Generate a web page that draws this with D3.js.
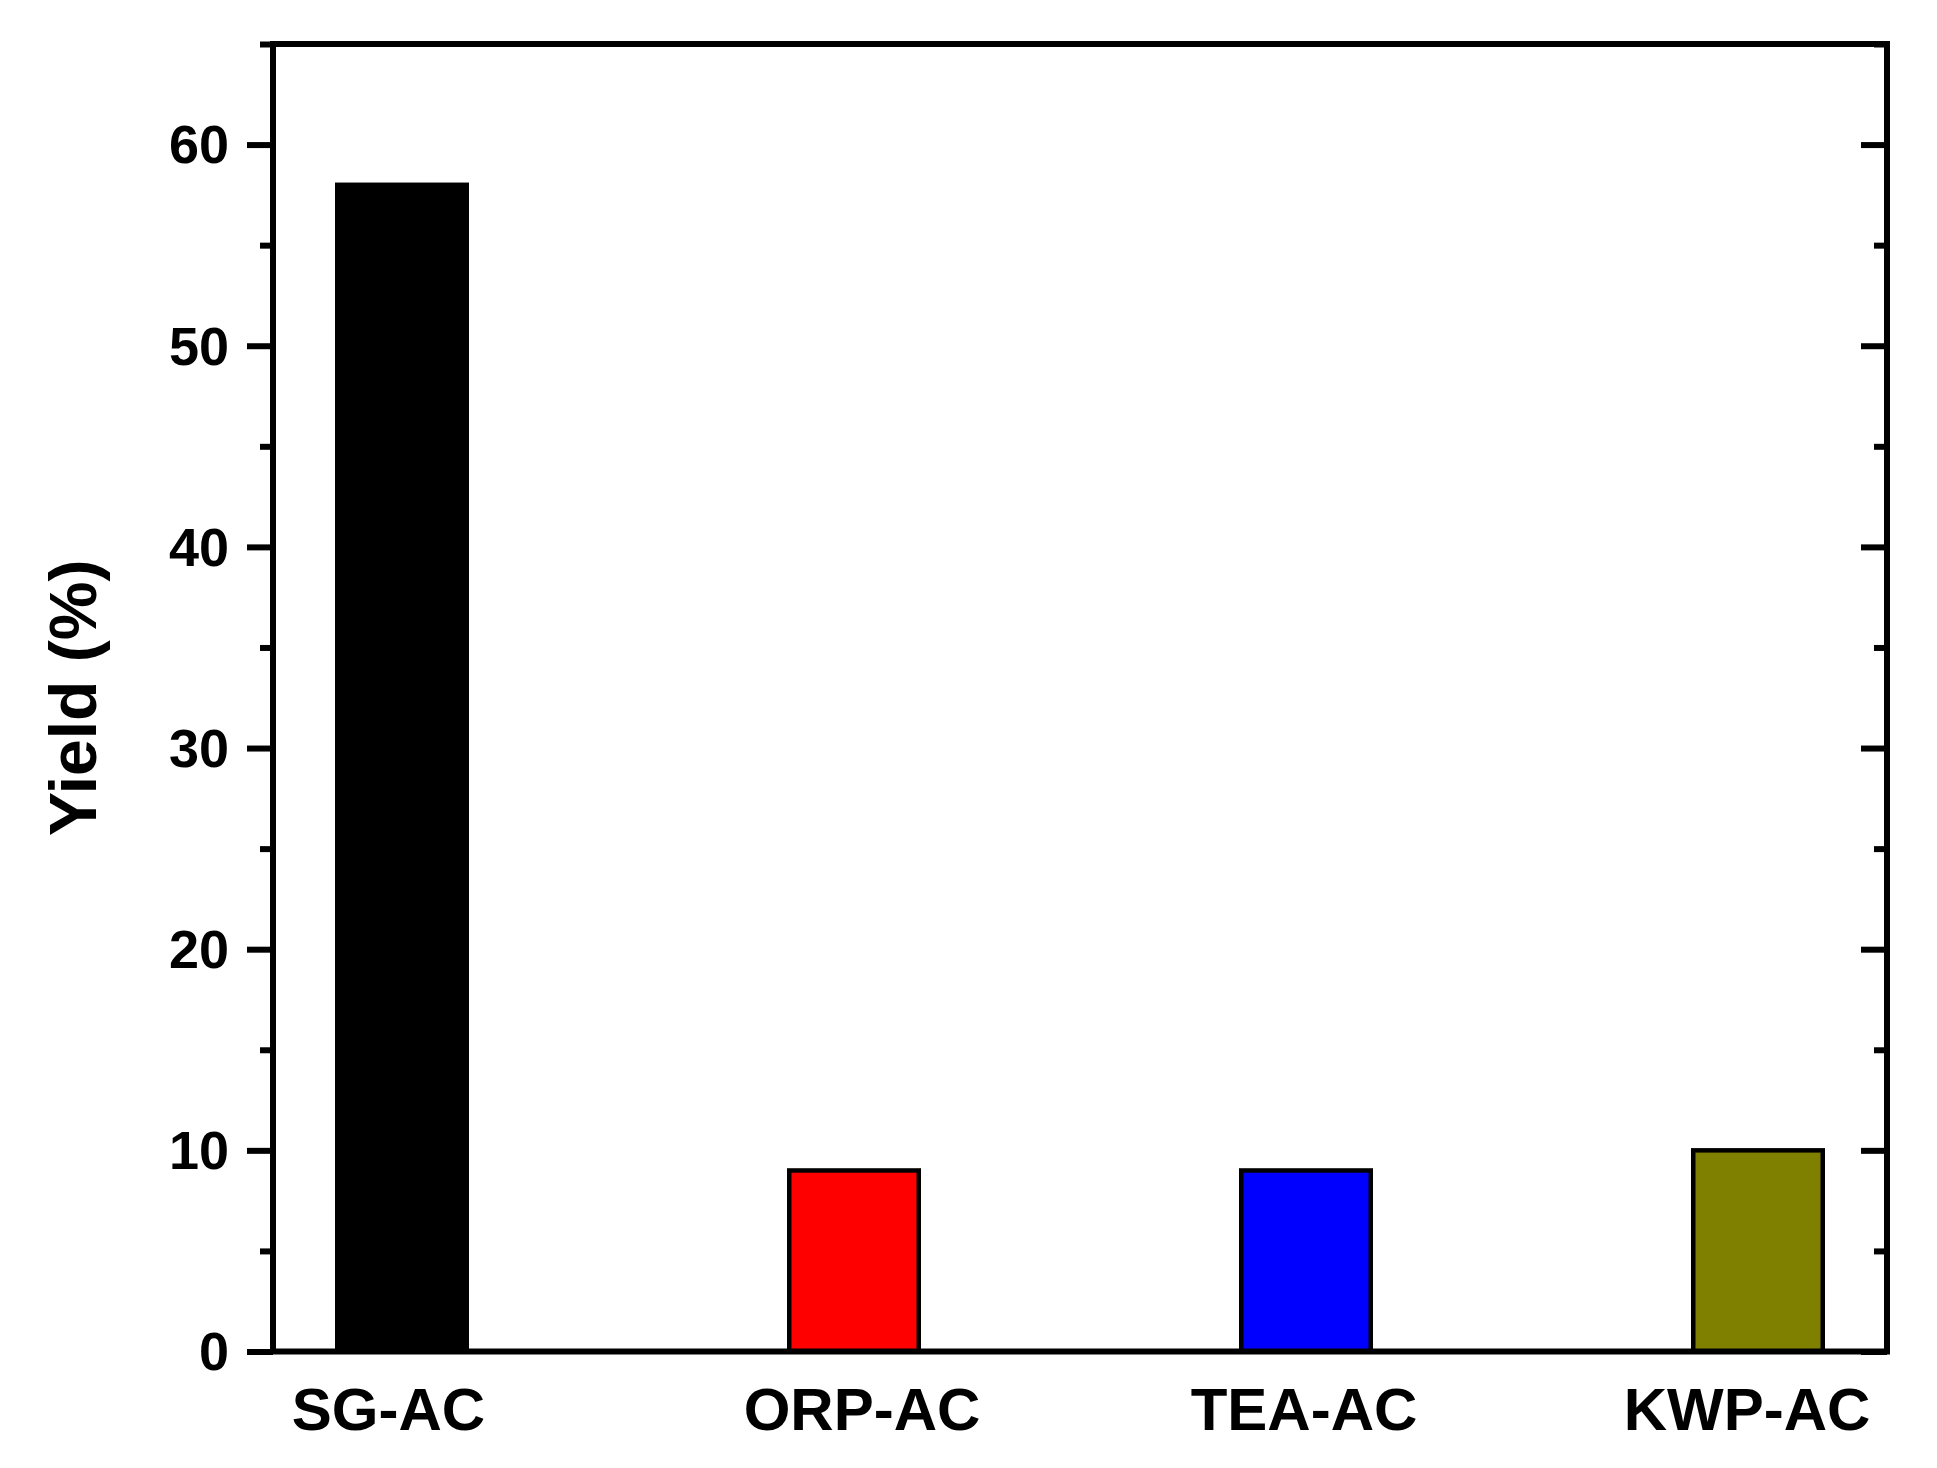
<!DOCTYPE html>
<html>
<head>
<meta charset="utf-8">
<script src="https://cdn.jsdelivr.net/npm/d3@7"></script>
<style>
  html, body { margin: 0; padding: 0; background: #ffffff; }
  svg { display: block; }
  text { font-family: "Liberation Sans", Arial, sans-serif; font-weight: bold; fill: #000; }
</style>
</head>
<body>
<script>
// ---- data ----
const categories = ["SG-AC", "ORP-AC", "TEA-AC", "KWP-AC"];
const yieldValues = [58, 9, 9, 10];
const barColors = ["#000000", "#ff0000", "#0000ff", "#808000"];
const yMajorTicks = [0, 10, 20, 30, 40, 50, 60];
const yMinorTicks = [5, 15, 25, 35, 45, 55, 65];
const yTitle = "Yield (%)";

// ---- layout ----
const W = 1937, H = 1468;
const pLeft = 273, pRight = 1887, pTop = 44, pBottom = 1351.5;
const labelNudge = [-14, 7.5, -2.5, -11.5]; // horizontal label offsets (px) seen in the original

const svg = d3.select("body").append("svg")
  .attr("width", W).attr("height", H);

const x = d3.scalePoint().domain(categories).range([pLeft, pRight]).padding(0.2854);
const y = d3.scaleLinear().domain([0, 65]).range([pBottom, pTop]);

const barW = 129.5;

// bars
svg.append("g").selectAll("rect").data(categories).join("rect")
  .attr("x", (d) => x(d) - barW / 2)
  .attr("y", (d, i) => y(yieldValues[i]))
  .attr("width", barW)
  .attr("height", (d, i) => y(0) - y(yieldValues[i]))
  .attr("fill", (d, i) => barColors[i])
  .attr("stroke", "#000")
  .attr("stroke-width", 4.5);

// left axis major (outward with labels)
const gL = svg.append("g").attr("transform", `translate(${pLeft},0)`)
  .call(d3.axisLeft(y).tickValues(yMajorTicks).tickSize(26).tickPadding(18).tickFormat(d3.format("d")));
gL.select(".domain").remove();
gL.selectAll(".tick line").attr("stroke", "#000").attr("stroke-width", 6);
gL.selectAll(".tick text").attr("font-size", 54).attr("dy", "0.34em")
  .style("font-family", "'Liberation Sans', Arial, sans-serif").style("font-weight", "bold");

// left axis minor
const gLm = svg.append("g").attr("transform", `translate(${pLeft},0)`)
  .call(d3.axisLeft(y).tickValues(yMinorTicks).tickSize(13).tickFormat(""));
gLm.select(".domain").remove();
gLm.selectAll(".tick line").attr("stroke", "#000").attr("stroke-width", 6);

// right axis major (inward, no labels)
const gR = svg.append("g").attr("transform", `translate(${pRight},0)`)
  .call(d3.axisRight(y).tickValues(yMajorTicks).tickSize(-26).tickFormat(""));
gR.select(".domain").remove();
gR.selectAll(".tick line").attr("stroke", "#000").attr("stroke-width", 6);

const gRm = svg.append("g").attr("transform", `translate(${pRight},0)`)
  .call(d3.axisRight(y).tickValues(yMinorTicks).tickSize(-13).tickFormat(""));
gRm.select(".domain").remove();
gRm.selectAll(".tick line").attr("stroke", "#000").attr("stroke-width", 6);

// bottom axis labels (no ticks)
const gB = svg.append("g").attr("transform", `translate(0,${pBottom})`)
  .call(d3.axisBottom(x).tickSize(0).tickPadding(0));
gB.select(".domain").remove();
gB.selectAll(".tick text").attr("font-size", 60).attr("y", 78.5).attr("dy", 0)
  .attr("x", (d, i) => labelNudge[i])
  .style("font-family", "'Liberation Sans', Arial, sans-serif").style("font-weight", "bold");

// frame
svg.append("rect")
  .attr("x", pLeft).attr("y", pTop)
  .attr("width", pRight - pLeft).attr("height", pBottom - pTop)
  .attr("fill", "none").attr("stroke", "#000").attr("stroke-width", 6);

// y title
svg.append("text")
  .attr("transform", `translate(96,${(pTop + pBottom) / 2}) rotate(-90)`)
  .attr("text-anchor", "middle")
  .attr("font-size", 66)
  .text(yTitle);
</script>
</body>
</html>
